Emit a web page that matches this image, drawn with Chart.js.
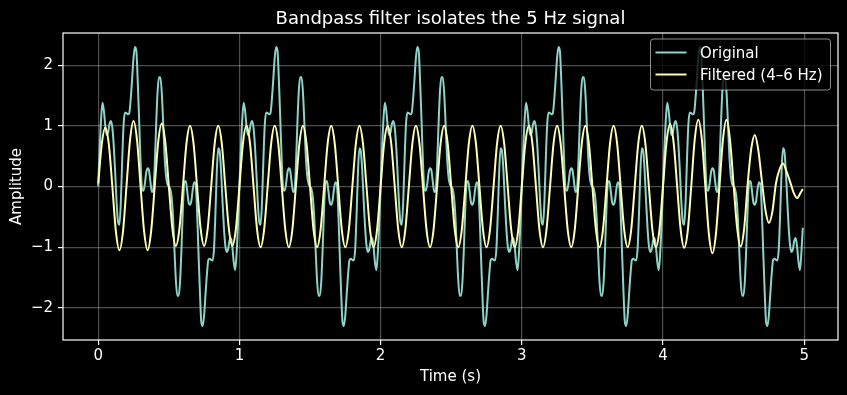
<!DOCTYPE html>
<html>
<head>
<meta charset="utf-8">
<script src="https://cdn.jsdelivr.net/npm/chart.js@4.4.1/dist/chart.umd.min.js"></script>
<style>
  html, body { margin: 0; padding: 0; background: #000; }
  #wrap { width: 847px; height: 395px; }
</style>
</head>
<body>
<div id="wrap"><canvas id="chart" width="847" height="395"></canvas></div>
<script>
const chartTitle = 'Bandpass filter isolates the 5 Hz signal';
const xLabel = 'Time (s)';
const yLabel = 'Amplitude';
const seriesNames = ['Original', 'Filtered (4\u20136 Hz)'];

// sample spacing in seconds
const originalStep = 0.01;
const filteredStep = 0.025;

const xTicks = [0, 1, 2, 3, 4, 5];
const yTicks = [-2, -1, 0, 1, 2];

// original signal, read every 0.01 s
const originalValues = [
  0.00, 0.60, 1.10, 1.38, 1.25, 1.00, 0.85, 0.89, 1.03, 1.08, 0.97, 0.67, 0.23, -0.26, -0.58, -0.63, -0.26, 0.45, 1.03, 1.22,
  1.21, 1.19, 1.21, 1.44, 1.77, 2.12, 2.30, 2.23, 1.72, 1.08, 0.40, -0.04, -0.07, 0.04, 0.23, 0.30, 0.26, 0.07, -0.09, -0.07,
  0.34, 1.00, 1.55, 1.80, 1.80, 1.55, 1.05, 0.51, 0.18, 0.04, 0.00, -0.04, -0.18, -0.51, -1.05, -1.55, -1.80, -1.80, -1.55, -1.00,
  -0.34, 0.07, 0.09, -0.07, -0.26, -0.30, -0.23, -0.04, 0.07, 0.04, -0.40, -1.08, -1.72, -2.23, -2.30, -2.12, -1.77, -1.44, -1.21, -1.19,
  -1.21, -1.22, -1.03, -0.45, 0.26, 0.63, 0.58, 0.26, -0.23, -0.67, -0.97, -1.08, -1.03, -0.89, -0.85, -1.00, -1.25, -1.38, -1.10, -0.62,
  0.00, 0.60, 1.10, 1.38, 1.25, 1.00, 0.85, 0.89, 1.03, 1.08, 0.97, 0.67, 0.23, -0.26, -0.58, -0.63, -0.26, 0.45, 1.03, 1.22,
  1.21, 1.19, 1.21, 1.44, 1.77, 2.12, 2.30, 2.23, 1.72, 1.08, 0.40, -0.04, -0.07, 0.04, 0.23, 0.30, 0.26, 0.07, -0.09, -0.07,
  0.34, 1.00, 1.55, 1.80, 1.80, 1.55, 1.05, 0.51, 0.18, 0.04, 0.00, -0.04, -0.18, -0.51, -1.05, -1.55, -1.80, -1.80, -1.55, -1.00,
  -0.34, 0.07, 0.09, -0.07, -0.26, -0.30, -0.23, -0.04, 0.07, 0.04, -0.40, -1.08, -1.72, -2.23, -2.30, -2.12, -1.77, -1.44, -1.21, -1.19,
  -1.21, -1.22, -1.03, -0.45, 0.26, 0.63, 0.58, 0.26, -0.23, -0.67, -0.97, -1.08, -1.03, -0.89, -0.85, -1.00, -1.25, -1.38, -1.10, -0.62,
  0.00, 0.60, 1.10, 1.38, 1.25, 1.00, 0.85, 0.89, 1.03, 1.08, 0.97, 0.67, 0.23, -0.26, -0.58, -0.63, -0.26, 0.45, 1.03, 1.22,
  1.21, 1.19, 1.21, 1.44, 1.77, 2.12, 2.30, 2.23, 1.72, 1.08, 0.40, -0.04, -0.07, 0.04, 0.23, 0.30, 0.26, 0.07, -0.09, -0.07,
  0.34, 1.00, 1.55, 1.80, 1.80, 1.55, 1.05, 0.51, 0.18, 0.04, 0.00, -0.04, -0.18, -0.51, -1.05, -1.55, -1.80, -1.80, -1.55, -1.00,
  -0.34, 0.07, 0.09, -0.07, -0.26, -0.30, -0.23, -0.04, 0.07, 0.04, -0.40, -1.08, -1.72, -2.23, -2.30, -2.12, -1.77, -1.44, -1.21, -1.19,
  -1.21, -1.22, -1.03, -0.45, 0.26, 0.63, 0.58, 0.26, -0.23, -0.67, -0.97, -1.08, -1.03, -0.89, -0.85, -1.00, -1.25, -1.38, -1.10, -0.62,
  0.00, 0.60, 1.10, 1.38, 1.25, 1.00, 0.85, 0.89, 1.03, 1.08, 0.97, 0.67, 0.23, -0.26, -0.58, -0.63, -0.26, 0.45, 1.03, 1.22,
  1.21, 1.19, 1.21, 1.44, 1.77, 2.12, 2.30, 2.23, 1.72, 1.08, 0.40, -0.04, -0.07, 0.04, 0.23, 0.30, 0.26, 0.07, -0.09, -0.07,
  0.34, 1.00, 1.55, 1.80, 1.80, 1.55, 1.05, 0.51, 0.18, 0.04, 0.00, -0.04, -0.18, -0.51, -1.05, -1.55, -1.80, -1.80, -1.55, -1.00,
  -0.34, 0.07, 0.09, -0.07, -0.26, -0.30, -0.23, -0.04, 0.07, 0.04, -0.40, -1.08, -1.72, -2.23, -2.30, -2.12, -1.77, -1.44, -1.21, -1.19,
  -1.21, -1.22, -1.03, -0.45, 0.26, 0.63, 0.58, 0.26, -0.23, -0.67, -0.97, -1.08, -1.03, -0.89, -0.85, -1.00, -1.25, -1.38, -1.10, -0.62,
  0.00, 0.60, 1.10, 1.38, 1.25, 1.00, 0.85, 0.89, 1.03, 1.08, 0.97, 0.67, 0.23, -0.26, -0.58, -0.63, -0.26, 0.45, 1.03, 1.22,
  1.21, 1.19, 1.21, 1.44, 1.77, 2.12, 2.30, 2.23, 1.72, 1.08, 0.40, -0.04, -0.07, 0.04, 0.23, 0.30, 0.26, 0.07, -0.09, -0.07,
  0.34, 1.00, 1.55, 1.80, 1.80, 1.55, 1.05, 0.51, 0.18, 0.04, 0.00, -0.04, -0.18, -0.51, -1.05, -1.55, -1.80, -1.80, -1.55, -1.00,
  -0.34, 0.07, 0.09, -0.07, -0.26, -0.30, -0.23, -0.04, 0.07, 0.04, -0.40, -1.08, -1.72, -2.23, -2.30, -2.12, -1.77, -1.44, -1.21, -1.19,
  -1.21, -1.22, -1.03, -0.45, 0.26, 0.63, 0.58, 0.26, -0.23, -0.67, -0.97, -1.08, -1.03, -0.89, -0.85, -1.00, -1.25, -1.38, -1.10, -0.68
];

// filtered signal, read every 0.025 s
const filteredValues = [
  0.05, 0.70, 0.97, 0.70, 0.00, -0.74, -1.05, -0.75,
  0.00, 0.76, 1.08, 0.76, 0.00, -0.74, -1.05, -0.73,
  0.00, 0.74, 1.04, 0.73, 0.01, -0.69, -0.98, -0.70,
  0.00, 0.71, 1.00, 0.71, 0.00, -0.69, -0.98, -0.70,
  0.00, 0.71, 1.00, 0.71, 0.00, -0.69, -0.98, -0.70,
  0.00, 0.71, 1.00, 0.71, 0.00, -0.71, -1.00, -0.71,
  0.00, 0.71, 1.00, 0.71, 0.00, -0.71, -1.00, -0.71,
  0.00, 0.71, 1.00, 0.71, 0.00, -0.71, -1.00, -0.71,
  0.00, 0.71, 1.00, 0.71, 0.00, -0.71, -1.00, -0.71,
  0.00, 0.71, 1.00, 0.71, 0.00, -0.71, -1.00, -0.71,
  0.00, 0.71, 1.00, 0.71, 0.00, -0.71, -1.00, -0.71,
  0.00, 0.71, 1.00, 0.71, 0.00, -0.71, -1.00, -0.71,
  0.00, 0.71, 1.00, 0.71, 0.00, -0.71, -1.00, -0.71,
  0.00, 0.71, 1.00, 0.71, 0.00, -0.71, -1.00, -0.71,
  0.00, 0.71, 1.00, 0.71, 0.00, -0.71, -1.00, -0.71,
  0.00, 0.71, 1.00, 0.71, 0.00, -0.71, -1.00, -0.71,
  0.00, 0.71, 1.00, 0.71, 0.00, -0.71, -1.00, -0.71,
  0.00, 0.71, 1.00, 0.71, 0.00, -0.71, -1.00, -0.71,
  0.00, 0.71, 1.00, 0.71, 0.00, -0.71, -1.00, -0.71,
  0.00, 0.71, 1.00, 0.71, 0.00, -0.71, -1.00, -0.71,
  0.00, 0.73, 1.03, 0.73, 0.01, -0.71, -1.01, -0.74,
  0.00, 0.78, 1.10, 0.78, 0.00, -0.78, -1.10, -0.78,
  0.00, 0.78, 1.10, 0.76, 0.03, -0.68, -0.99, -0.69,
  0.05, 0.62, 0.85, 0.60, 0.10, -0.38, -0.60, -0.41,
  0.05, 0.28, 0.38, 0.25, 0.08, -0.10, -0.19, -0.10, -0.04
];

const colors = ['#8dd3c7', '#feffb3'];
const fontFamily = '"DejaVu Sans", sans-serif';

const originalPoints = originalValues.map((v, i) => ({ x: i * originalStep, y: v }));
const filteredPoints = filteredValues.map((v, i) => ({ x: Math.min(i * filteredStep, 4.99), y: v }));

const fmt = v => v < 0 ? '\u2212' + Math.abs(v) : String(v);

const frameAndText = {
  id: 'frameAndText',
  afterDraw(chart) {
    const { ctx, chartArea: a } = chart;
    ctx.save();
    ctx.strokeStyle = '#fff';
    ctx.lineWidth = 1.2;
    ctx.strokeRect(a.left, a.top, a.right - a.left, a.bottom - a.top);

    ctx.fillStyle = '#fff';
    ctx.font = '18px ' + fontFamily;
    ctx.textAlign = 'center';
    ctx.textBaseline = 'alphabetic';
    ctx.fillText(chartTitle, (a.left + a.right) / 2, 24);

    // legend
    const lx = 650.5, ly = 39, lw = 180, lh = 51;
    ctx.beginPath();
    ctx.roundRect(lx, ly, lw, lh, 3);
    ctx.fillStyle = 'rgba(0,0,0,0.8)';
    ctx.fill();
    ctx.strokeStyle = 'rgba(255,255,255,0.55)';
    ctx.lineWidth = 1;
    ctx.stroke();

    ctx.font = '15px ' + fontFamily;
    ctx.textAlign = 'left';
    ctx.textBaseline = 'middle';
    const rows = [52.5, 74.5];
    seriesNames.forEach((name, i) => {
      ctx.strokeStyle = colors[i];
      ctx.lineWidth = 2;
      ctx.beginPath();
      ctx.moveTo(655.5, rows[i]);
      ctx.lineTo(686.5, rows[i]);
      ctx.stroke();
      ctx.fillStyle = '#fff';
      ctx.fillText(name, 700, rows[i] + 1.5);
    });
    ctx.restore();
  }
};

const gridOpts = {
  color: 'rgba(255,255,255,0.3)',
  lineWidth: 1.2,
  tickLength: 5,
  tickColor: '#fff',
  tickWidth: 1.2
};

new Chart(document.getElementById('chart'), {
  type: 'line',
  data: {
    datasets: [
      {
        label: seriesNames[0],
        data: originalPoints,
        borderColor: colors[0],
        borderWidth: 2,
        pointRadius: 0,
        fill: false,
        cubicInterpolationMode: 'monotone',
        order: 1
      },
      {
        label: seriesNames[1],
        data: filteredPoints,
        borderColor: colors[1],
        borderWidth: 2,
        pointRadius: 0,
        fill: false,
        cubicInterpolationMode: 'monotone',
        order: 0
      }
    ]
  },
  options: {
    responsive: false,
    animation: false,
    devicePixelRatio: 1,
    layout: { padding: { top: 33, right: 9, left: 0, bottom: 0 } },
    plugins: {
      legend: { display: false },
      title: { display: false },
      tooltip: { enabled: false }
    },
    scales: {
      x: {
        type: 'linear',
        min: -0.2495,
        max: 5.2395,
        afterBuildTicks: s => { s.ticks = xTicks.map(v => ({ value: v })); },
        afterFit: s => { s.height = 55; },
        ticks: {
          color: '#fff',
          font: { family: fontFamily, size: 15 },
          padding: 2,
          maxRotation: 0,
          autoSkip: false,
          callback: v => fmt(v)
        },
        grid: gridOpts,
        border: { display: false },
        title: {
          display: true,
          text: xLabel,
          color: '#fff',
          font: { family: fontFamily, size: 15 },
          padding: { top: 0, bottom: 9 }
        }
      },
      y: {
        type: 'linear',
        min: -2.53,
        max: 2.53,
        afterBuildTicks: s => { s.ticks = yTicks.map(v => ({ value: v })); },
        afterFit: s => { s.width = 63; },
        ticks: {
          color: '#fff',
          font: { family: fontFamily, size: 15 },
          padding: 5,
          autoSkip: false,
          callback: v => fmt(v)
        },
        grid: gridOpts,
        border: { display: false },
        title: {
          display: true,
          text: yLabel,
          color: '#fff',
          font: { family: fontFamily, size: 15 },
          padding: { top: 8, bottom: 0 }
        }
      }
    }
  },
  plugins: [frameAndText]
});
</script>
</body>
</html>
